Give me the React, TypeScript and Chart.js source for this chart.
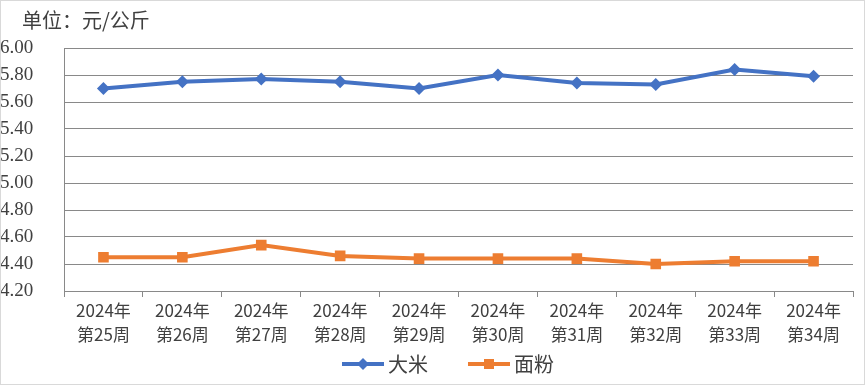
import React, { useEffect, useRef } from "react";
import { Chart, registerables } from "chart.js";

Chart.register(...registerables);

const title = "单位：元/公斤";
const years = ["2024年", "2024年", "2024年", "2024年", "2024年", "2024年", "2024年", "2024年", "2024年", "2024年"];
const weeks = ["第25周", "第26周", "第27周", "第28周", "第29周", "第30周", "第31周", "第32周", "第33周", "第34周"];
const riceLabel = "大米";
const flourLabel = "面粉";
const rice = [5.7, 5.75, 5.77, 5.75, 5.7, 5.8, 5.74, 5.73, 5.84, 5.79];
const flour = [4.45, 4.45, 4.54, 4.46, 4.44, 4.44, 4.44, 4.4, 4.42, 4.42];
const yMin = 4.2;
const yMax = 6.0;
const yStep = 0.2;

const BLUE = "#4472C4";
const ORANGE = "#ED7D31";
const GRID = "#898989";
const TEXT = "#404040";

export default function App() {
  const ref = useRef<HTMLCanvasElement>(null);
  useEffect(() => {
    document.body.style.margin = "0";
    const decor = {
      id: "titleLegendBorder",
      afterDraw(chart: any) {
        const ctx = chart.ctx;
        ctx.save();
        ctx.strokeStyle = "#d9d9d9";
        ctx.lineWidth = 1;
        ctx.strokeRect(0.5, 0.5, chart.width - 1, chart.height - 1);
        ctx.fillStyle = TEXT;
        ctx.font = "20px 'Noto Sans CJK SC'";
        ctx.textBaseline = "middle";
        ctx.textAlign = "left";
        ctx.fillText(title, 22, 20);

        // legend: line + marker, then label
        const y = 364;
        let x = 342;
        ctx.font = "20px 'Noto Sans CJK SC'";
        chart.data.datasets.forEach((ds: any) => {
          const c = ds.borderColor;
          ctx.strokeStyle = c;
          ctx.fillStyle = c;
          ctx.lineWidth = 4;
          ctx.beginPath();
          ctx.moveTo(x, y);
          ctx.lineTo(x + 42, y);
          ctx.stroke();
          const cx = x + 21;
          if (ds.pointStyle === "rectRot") {
            ctx.beginPath();
            ctx.moveTo(cx, y - 6);
            ctx.lineTo(cx + 6, y);
            ctx.lineTo(cx, y + 6);
            ctx.lineTo(cx - 6, y);
            ctx.closePath();
            ctx.fill();
          } else {
            ctx.fillRect(cx - 5, y - 5, 10, 10);
          }
          ctx.fillStyle = TEXT;
          ctx.fillText(ds.label, x + 46, y);
          x += 46 + ctx.measureText(ds.label).width + 40;
        });
        ctx.restore();
      },
    };
    const chart = new Chart(ref.current!, {
      type: "line",
      data: {
        labels: years.map((y, i) => [y, weeks[i]]),
        datasets: [
          {
            label: riceLabel,
            data: rice,
            borderColor: BLUE,
            backgroundColor: BLUE,
            borderWidth: 4,
            pointStyle: "rectRot",
            pointRadius: 6.5,
            pointBorderWidth: 0,
            tension: 0,
          },
          {
            label: flourLabel,
            data: flour,
            borderColor: ORANGE,
            backgroundColor: ORANGE,
            borderWidth: 4,
            pointStyle: "rect",
            pointRadius: 7.5,
            pointBorderWidth: 0,
            tension: 0,
          },
        ],
      },
      options: {
        animation: false,
        responsive: false,
        devicePixelRatio: 1,
        layout: { padding: { top: 48, right: 12, bottom: 38, left: 0 } },
        plugins: {
          tooltip: { enabled: false },
          legend: { display: false },
        },
        scales: {
          x: {
            offset: true,
            grid: {
              offset: true,
              drawOnChartArea: false,
              drawTicks: true,
              tickLength: 6,
              color: GRID,
            },
            border: { display: true, color: GRID },
            ticks: {
              color: TEXT,
              font: { family: "'Noto Sans CJK SC'", size: 17, lineHeight: 1.41 },
              maxRotation: 0,
              autoSkip: false,
              padding: 2,
            },
            afterFit: (s: any) => {
              s.height = 56;
            },
          },
          y: {
            min: yMin,
            max: yMax,
            grid: { color: GRID, drawTicks: false },
            border: { display: true, color: GRID },
            ticks: {
              stepSize: yStep,
              autoSkip: false,
              color: TEXT,
              crossAlign: "far",
              padding: 8,
              font: { family: "'Liberation Serif'", size: 19 },
              callback: (v: any) => Number(v).toFixed(2),
            },
            afterFit: (s: any) => {
              s.width = 64;
            },
          },
        },
      },
      plugins: [decor],
    } as any);
    return () => chart.destroy();
  }, []);
  return (
    <div style={{ width: 865, height: 385 }}>
      <canvas ref={ref} width={865} height={385} style={{ display: "block" }} />
    </div>
  );
}
